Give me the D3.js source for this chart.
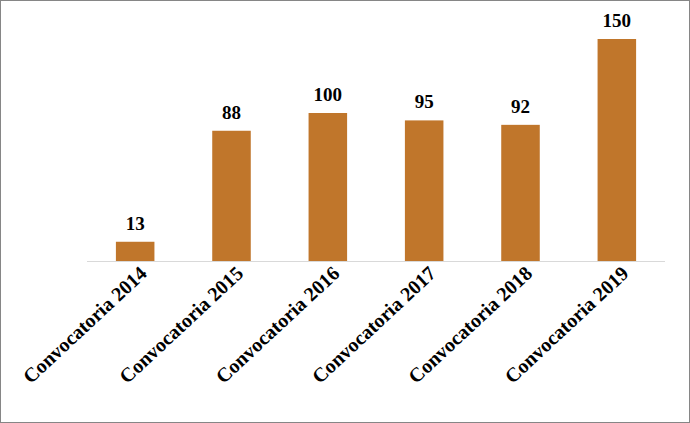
<!DOCTYPE html>
<html><head><meta charset="utf-8">
<script src="https://cdn.jsdelivr.net/npm/d3@7"></script>
<style>body{margin:0;background:#fff}</style></head>
<body><svg width="690" height="423"></svg>
<script>
const categories=["Convocatoria 2014","Convocatoria 2015","Convocatoria 2016","Convocatoria 2017","Convocatoria 2018","Convocatoria 2019"];
const values=[13,88,100,95,92,150];
const svg=d3.select("svg");
svg.append("rect").attr("x",0.5).attr("y",0.5).attr("width",689).attr("height",422).attr("fill","#fff").attr("stroke","#868686");
const x=d3.scaleBand().domain(categories).range([87,665]).paddingInner(0.6).paddingOuter(0.3);
const y=d3.scaleLinear().domain([0,150]).range([261,39]);
svg.append("line").attr("x1",87).attr("x2",665).attr("y1",261.5).attr("y2",261.5).attr("stroke","#d9d9d9");
svg.selectAll(".bar").data(values).join("rect").attr("x",(d,i)=>x(categories[i])).attr("width",x.bandwidth())
 .attr("y",d=>y(d)).attr("height",d=>261-y(d)).attr("fill","#C0762B");
svg.selectAll(".val").data(values).join("text").attr("x",(d,i)=>x(categories[i])+x.bandwidth()/2).attr("y",d=>y(d)-12)
 .attr("text-anchor","middle").attr("font-family","Liberation Serif").attr("font-weight","bold").attr("font-size",19).text(d=>d);
svg.selectAll(".cat").data(categories).join("text")
 .attr("transform",d=>`translate(${x(d)+x.bandwidth()/2+13},${275}) rotate(-43)`)
 .attr("text-anchor","end").attr("font-family","Liberation Serif").attr("font-weight","bold").attr("font-size",20).text(d=>d);
</script></body></html>
